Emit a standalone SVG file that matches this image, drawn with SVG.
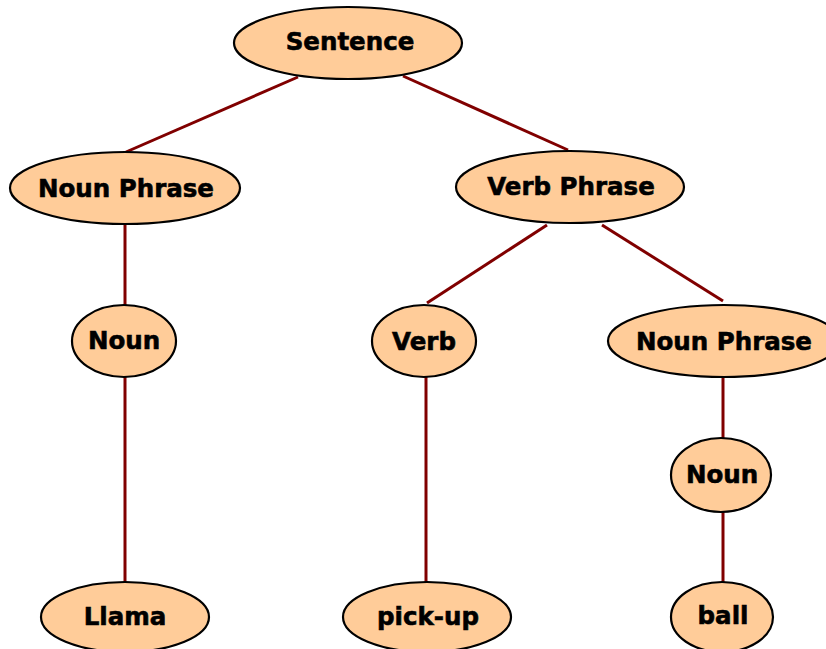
<svg xmlns="http://www.w3.org/2000/svg" width="826" height="649" viewBox="0 0 826 649">
<style>
.n ellipse{fill:#FFCC99;stroke:#000;stroke-width:2.2}
.n text{font-family:"DejaVu Sans","Verdana",sans-serif;font-weight:bold;font-size:24.5px;fill:#000;stroke:#000;stroke-width:0.6;text-anchor:middle}
#edges line{stroke:#800000;stroke-width:3}
</style>
<rect width="826" height="649" fill="#fff"/>
<g id="edges">
<line x1="298" y1="77" x2="126" y2="152"/>
<line x1="403" y1="76" x2="568" y2="150"/>
<line x1="125" y1="224" x2="125" y2="305"/>
<line x1="125" y1="376" x2="125" y2="582"/>
<line x1="547" y1="225" x2="427" y2="303"/>
<line x1="602" y1="225" x2="723" y2="301"/>
<line x1="426" y1="376" x2="426" y2="582"/>
<line x1="723" y1="377" x2="723" y2="438"/>
<line x1="723" y1="512" x2="723" y2="583"/>
</g>
<g id="sentence" class="n"><ellipse cx="348" cy="43" rx="114" ry="36"/><text x="350" y="50">Sentence</text></g>
<g id="np1" class="n"><ellipse cx="125" cy="188" rx="115" ry="36"/><text x="126" y="197">Noun Phrase</text></g>
<g id="vp" class="n"><ellipse cx="570" cy="187" rx="114" ry="36"/><text x="571" y="195">Verb Phrase</text></g>
<g id="noun1" class="n"><ellipse cx="124" cy="341" rx="52" ry="36"/><text x="124" y="349">Noun</text></g>
<g id="verb" class="n"><ellipse cx="424" cy="341" rx="52" ry="36"/><text x="424" y="350">Verb</text></g>
<g id="np2" class="n"><ellipse cx="724" cy="341" rx="116" ry="36"/><text x="724" y="350">Noun Phrase</text></g>
<g id="noun2" class="n"><ellipse cx="721" cy="475" rx="50" ry="37"/><text x="722" y="483">Noun</text></g>
<g id="llama" class="n"><ellipse cx="125" cy="617" rx="84" ry="35"/><text x="125" y="625">Llama</text></g>
<g id="pickup" class="n"><ellipse cx="427" cy="617" rx="84" ry="35"/><text x="428" y="625">pick-up</text></g>
<g id="ball" class="n"><ellipse cx="722" cy="617" rx="51" ry="35"/><text x="723" y="624">ball</text></g>
</svg>
